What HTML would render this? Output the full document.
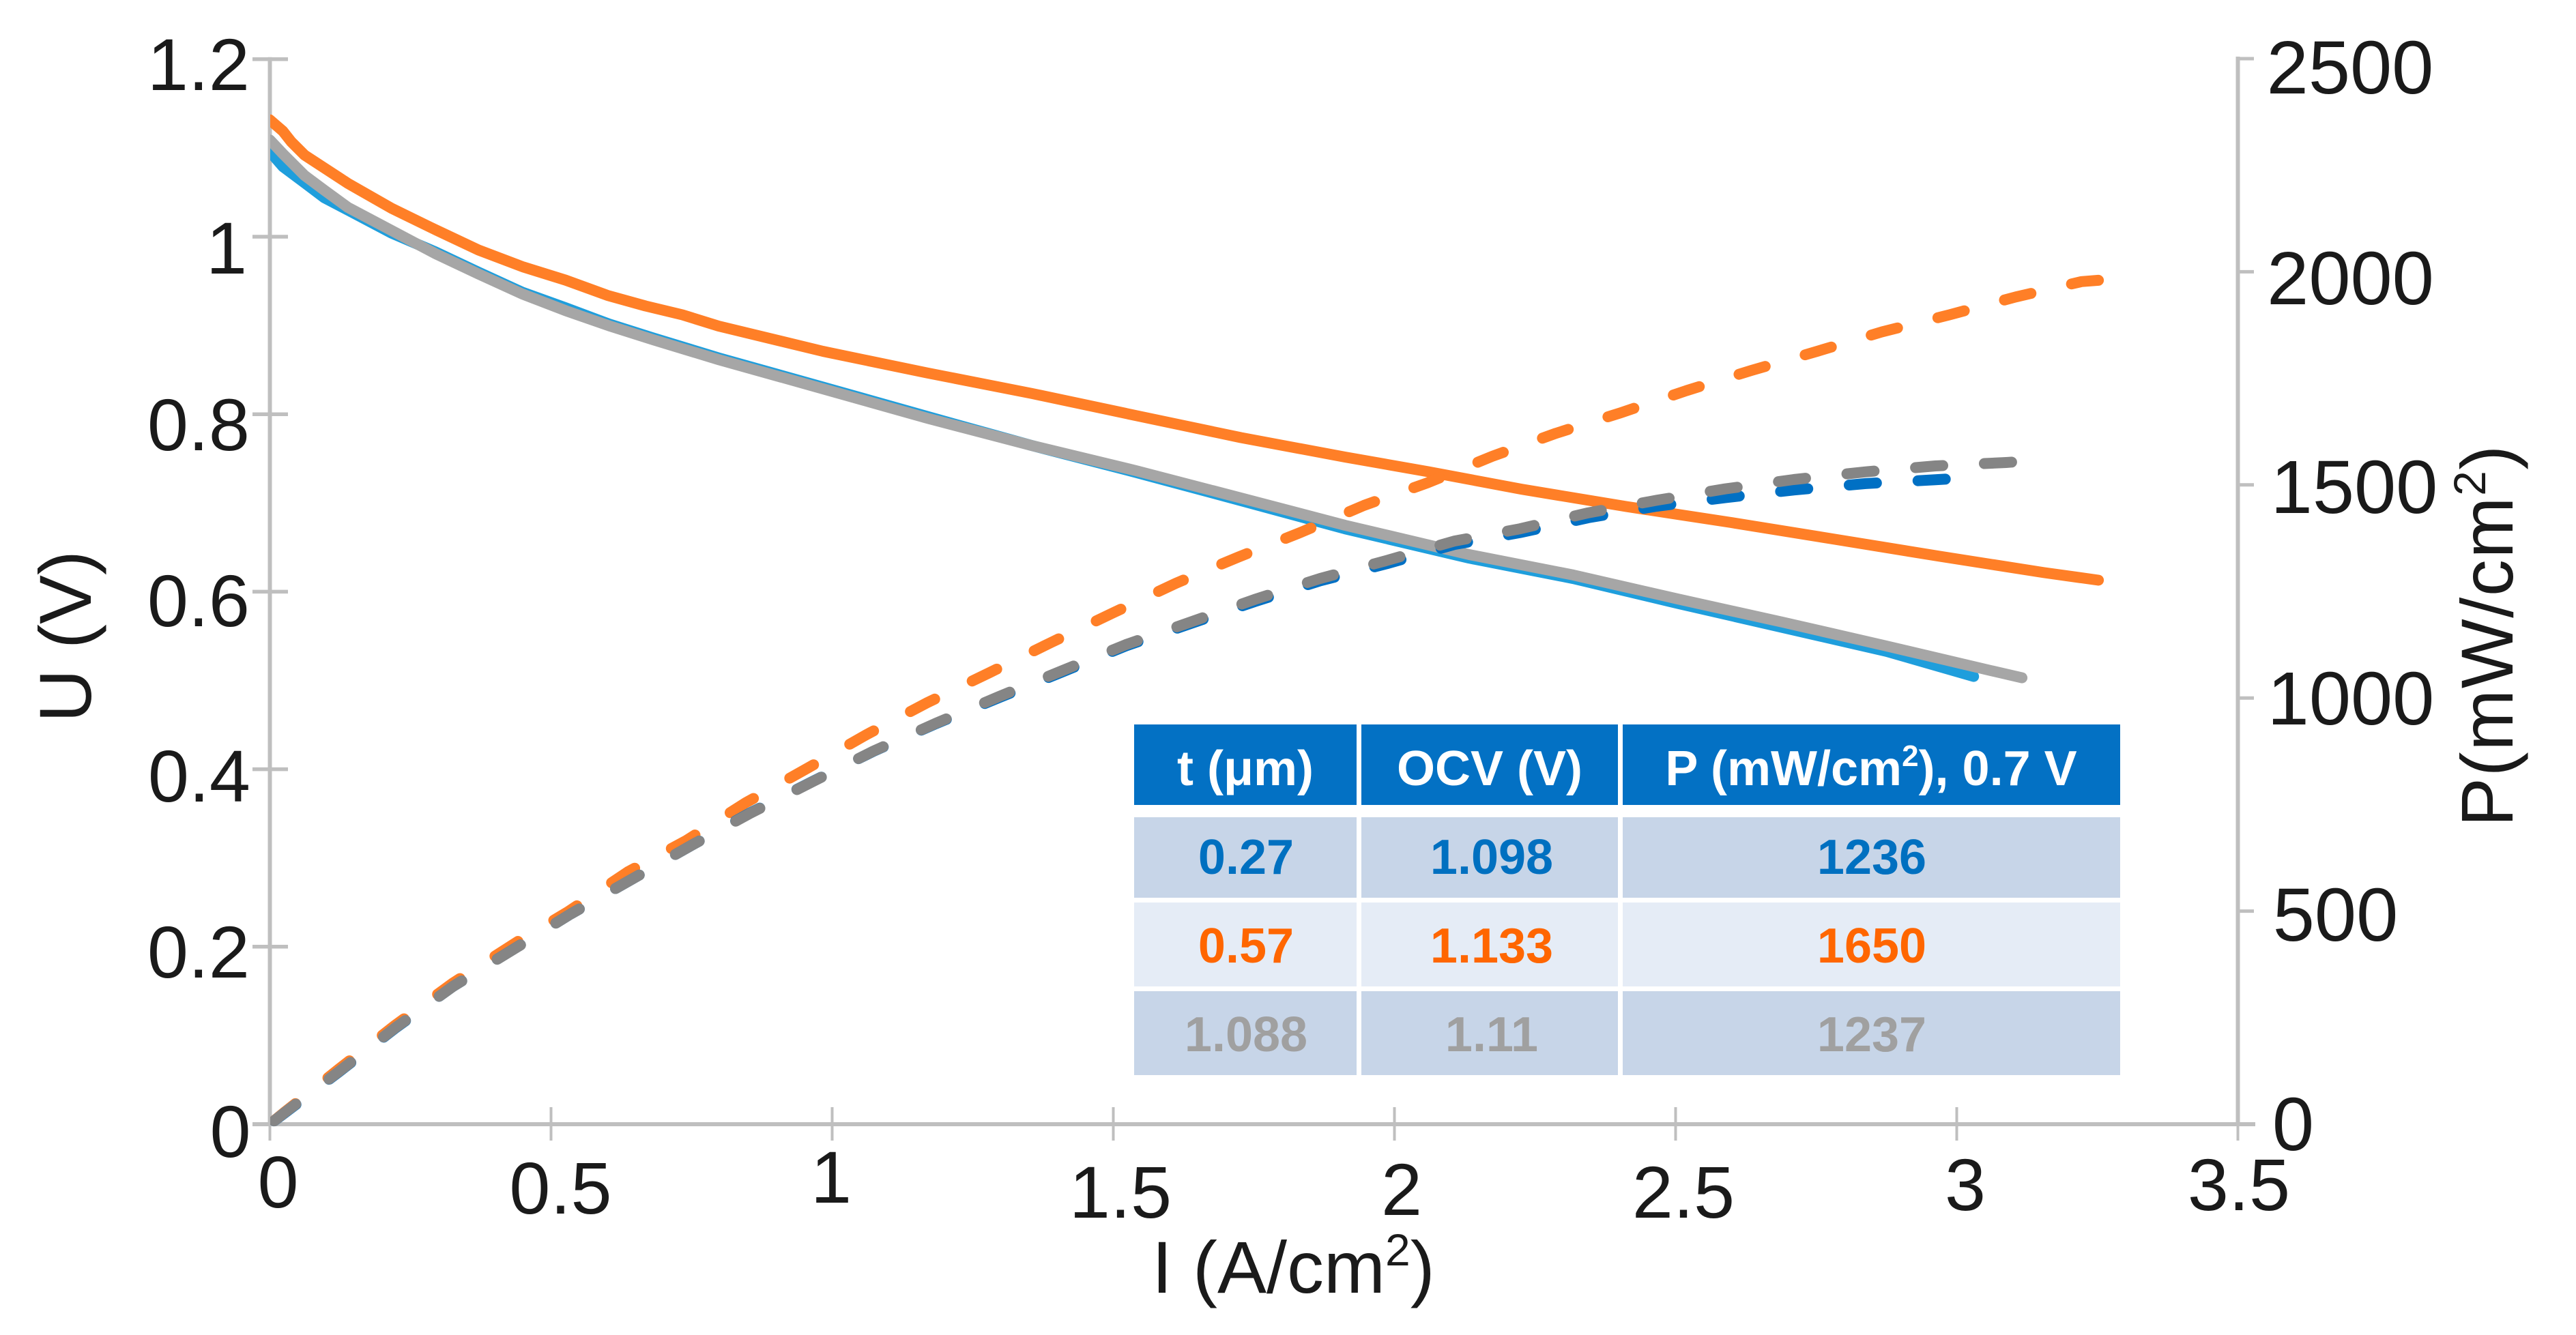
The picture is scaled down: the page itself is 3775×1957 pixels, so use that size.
<!DOCTYPE html>
<html lang="en">
<head>
<meta charset="utf-8">
<title>Polarization and power density curves</title>
<style>
html,body{margin:0;padding:0;background:#fff;}
svg{display:block;font-family:"Liberation Sans",Arial,sans-serif;}
.lbl{font-size:108px;fill:#1a1a1a;}
.rlbl{font-size:110px;fill:#1a1a1a;}
.th{font-size:72px;font-weight:bold;fill:#fff;text-anchor:middle;}
.td{font-size:72px;font-weight:bold;text-anchor:middle;}
</style>
</head>
<body>
<svg id="chart" xmlns="http://www.w3.org/2000/svg" width="3775" height="1957" viewBox="0 0 3775 1957">
  <rect width="3775" height="1957" fill="#fff"/>
  <defs><clipPath id="plot-clip"><rect x="396" y="0" width="3000" height="1957"/></clipPath></defs>
  <g id="axes"></g>
  <g id="series" clip-path="url(#plot-clip)"></g>

  <g text-anchor="end">
    <text class="lbl" x="366" y="132">1.2</text>
    <text class="lbl" x="366" y="660">0.8</text>
    <text class="lbl" x="366" y="918">0.6</text>
    <text class="lbl" x="367" y="1175">0.4</text>
    <text class="lbl" x="366" y="1433">0.2</text>
  </g>
  <g text-anchor="middle">
    <text class="lbl" x="332" y="401">1</text>
    <text class="lbl" x="337.5" y="1696">0</text>
  </g>
  <g text-anchor="middle">
    <text class="lbl" x="407.5" y="1770">0</text>
    <text class="lbl" x="821.5" y="1779">0.5</text>
    <text class="lbl" x="1218" y="1763">1</text>
    <text class="lbl" x="1642" y="1785">1.5</text>
    <text class="lbl" x="2054" y="1781">2</text>
    <text class="lbl" x="2467" y="1785">2.5</text>
    <text class="lbl" x="2880" y="1774">3</text>
    <text class="lbl" x="3281" y="1774">3.5</text>
  </g>
  <g text-anchor="middle">
    <text class="rlbl" x="3444" y="137">2500</text>
    <text class="rlbl" x="3444.5" y="446">2000</text>
    <text class="rlbl" x="3450" y="752">1500</text>
    <text class="rlbl" x="3445" y="1062">1000</text>
    <text class="rlbl" x="3422.5" y="1379">500</text>
    <text class="rlbl" x="3360.5" y="1686">0</text>
  </g>

  <text class="lbl" x="1688" y="1895">I (A/cm<tspan font-size="66" dy="-40">2</tspan><tspan dy="40">)</tspan></text>
  <text class="lbl" transform="translate(133,1059) rotate(-90)" x="0" y="0" font-size="105">U (V)</text>
  <text class="lbl" transform="translate(3682,1212) rotate(-90)" x="0" y="0" letter-spacing="1.6">P(mW/cm<tspan font-size="66" dy="-40">2</tspan><tspan dy="40">)</tspan></text>

  <g>
    <g fill="#0371c4">
      <rect x="1662" y="1062" width="326" height="118"/>
      <rect x="1995" y="1062" width="376" height="118"/>
      <rect x="2378" y="1062" width="729" height="118"/>
    </g>
    <g fill="#c7d5e8">
      <rect x="1662" y="1198" width="326" height="118"/>
      <rect x="1995" y="1198" width="376" height="118"/>
      <rect x="2378" y="1198" width="729" height="118"/>
    </g>
    <g fill="#e5ecf6">
      <rect x="1662" y="1323" width="326" height="123"/>
      <rect x="1995" y="1323" width="376" height="123"/>
      <rect x="2378" y="1323" width="729" height="123"/>
    </g>
    <g fill="#c7d5e8">
      <rect x="1662" y="1453" width="326" height="123"/>
      <rect x="1995" y="1453" width="376" height="123"/>
      <rect x="2378" y="1453" width="729" height="123"/>
    </g>
    <text class="th" x="1825" y="1151">t (μm)</text>
    <text class="th" x="2183" y="1151">OCV (V)</text>
    <text class="th" x="2742" y="1151">P (mW/cm<tspan font-size="44" dy="-28">2</tspan><tspan dy="28">), 0.7 V</tspan></text>
    <g fill="#0070c0">
      <text class="td" x="1826" y="1281">0.27</text>
      <text class="td" x="2186" y="1281">1.098</text>
      <text class="td" x="2743" y="1281">1236</text>
    </g>
    <g fill="#ff6600">
      <text class="td" x="1826" y="1411">0.57</text>
      <text class="td" x="2186" y="1411">1.133</text>
      <text class="td" x="2743" y="1411">1650</text>
    </g>
    <g fill="#a0a0a0">
      <text class="td" x="1826" y="1541">1.088</text>
      <text class="td" x="2186" y="1541">1.11</text>
      <text class="td" x="2743" y="1541">1237</text>
    </g>
  </g>
</svg>
<script>
var xTicks = [0, 0.5, 1, 1.5, 2, 2.5, 3, 3.5];
var uTicks = [0, 0.2, 0.4, 0.6, 0.8, 1, 1.2];
var pTicks = [0, 500, 1000, 1500, 2000, 2500];

var currentOrangeU = [0, 0.023, 0.038, 0.0616, 0.139, 0.2166, 0.294, 0.371, 0.45, 0.526, 0.6, 0.668, 0.7336, 0.798, 0.9836, 1.169, 1.355, 1.541, 1.727, 1.912, 2.061, 2.226, 2.412, 2.598, 2.784, 2.969, 3.155, 3.252];
var voltageOrange = [1.1316, 1.119, 1.107, 1.092, 1.06, 1.032, 1.008, 0.985, 0.966, 0.951, 0.934, 0.922, 0.912, 0.8993, 0.8709, 0.8465, 0.8234, 0.7984, 0.7736, 0.7517, 0.7351, 0.7155, 0.696, 0.678, 0.659, 0.64, 0.6215, 0.613];

var currentGrayU = [0, 0.023, 0.0616, 0.0966, 0.139, 0.2166, 0.294, 0.371, 0.4487, 0.526, 0.6034, 0.681, 0.798, 0.9836, 1.169, 1.355, 1.541, 1.727, 1.912, 2.133, 2.318, 2.504, 2.69, 2.875, 3.061, 3.116];
var voltageGray = [1.109, 1.0935, 1.069, 1.0525, 1.033, 1.007, 0.981, 0.958, 0.9355, 0.9167, 0.8996, 0.884, 0.8615, 0.8286, 0.7955, 0.7647, 0.7363, 0.7056, 0.6749, 0.6418, 0.6188, 0.5918, 0.5657, 0.5388, 0.5111, 0.503];

var currentBlueU = [0, 0.023, 0.0616, 0.0966, 0.139, 0.2166, 0.294, 0.371, 0.4487, 0.526, 0.6034, 0.681, 0.798, 0.9836, 1.169, 1.355, 1.541, 1.727, 1.912, 2.133, 2.318, 2.504, 2.69, 2.875, 3.03];
var voltageBlue = [1.096, 1.079, 1.0607, 1.044, 1.03, 1.004, 0.983, 0.96, 0.9375, 0.92, 0.9016, 0.886, 0.8635, 0.8306, 0.7975, 0.7647, 0.7343, 0.7026, 0.6709, 0.6378, 0.6148, 0.5868, 0.5597, 0.5328, 0.5045];

var currentOrangeP = [0, 0.026, 0.1232, 0.2227, 0.3252, 0.44, 0.5297, 0.6365, 0.741, 0.846, 0.9545, 1.061, 1.169, 1.28, 1.389, 1.5, 1.611, 1.722, 1.834, 1.946, 2.058, 2.174, 2.287, 2.402, 2.519, 2.635, 2.751, 2.867, 2.987, 3.105, 3.222, 3.252];
var powerOrange = [0, 28, 130, 232, 331, 428, 498, 592, 666, 754, 834, 914, 989, 1059.5, 1130, 1200, 1269, 1330.5, 1389, 1452, 1504.5, 1567, 1621, 1669, 1721, 1768.6, 1813, 1859, 1899, 1941, 1977, 1980];

var currentGrayP = [0, 0.026, 0.1232, 0.2227, 0.3252, 0.4424, 0.5346, 0.6414, 0.748, 0.855, 0.9648, 1.0734, 1.185, 1.297, 1.409, 1.522, 1.638, 1.751, 1.868, 1.986, 2.106, 2.223, 2.345, 2.467, 2.588, 2.71, 2.838, 2.962, 3.088, 3.116];
var powerGray = [0, 27, 124, 226, 323, 417.7, 493, 573, 653, 730, 803.5, 875.5, 941, 1003.5, 1064, 1125, 1178.5, 1231, 1280.4, 1322.5, 1368, 1397, 1434.5, 1464, 1490.6, 1512.5, 1530.6, 1544.5, 1552.5, 1555];

var currentBlueP = [0, 0.026, 0.1232, 0.2227, 0.3252, 0.4424, 0.5346, 0.6414, 0.748, 0.855, 0.9648, 1.0734, 1.185, 1.297, 1.409, 1.522, 1.638, 1.751, 1.868, 1.986, 2.106, 2.223, 2.345, 2.467, 2.588, 2.71, 2.838, 2.962, 3.0];
var powerBlue = [0, 26, 123, 225, 323, 418, 493, 573, 653, 731, 804, 875, 940, 1001, 1061, 1122, 1175, 1226, 1275, 1315, 1360, 1388, 1423, 1450, 1470, 1488, 1503, 1512, 1515];

var svgNS = 'http://www.w3.org/2000/svg';
function xScale(i) { return 395.5 + 824 * i; }
function uScale(u) { return 1648 - 1301 * u; }
function pScale(p) { return 1648 - 0.6248 * p; }

function buildPath(xs, ys, yFn) {
  var d = '';
  for (var i = 0; i < xs.length; i++) {
    d += (i ? 'L' : 'M') + xScale(xs[i]).toFixed(1) + ' ' + yFn(ys[i]).toFixed(1);
  }
  return d;
}

var axesGroup = document.getElementById('axes');
var seriesGroup = document.getElementById('series');

function addLine(x1, y1, x2, y2, width) {
  var el = document.createElementNS(svgNS, 'line');
  el.setAttribute('x1', x1);
  el.setAttribute('y1', y1);
  el.setAttribute('x2', x2);
  el.setAttribute('y2', y2);
  el.setAttribute('stroke', '#bfbfbf');
  el.setAttribute('stroke-width', width);
  axesGroup.appendChild(el);
  return el;
}

var leftAxis = addLine(xScale(0), uScale(1.2) - 3, xScale(0), 1648, 6);


var rightAxis = addLine(xScale(3.5), pScale(2500) - 3, xScale(3.5), 1648, 6);


var bottomAxis = addLine(370, 1648, 3305, 1648, 6);



xTicks.forEach(function (t) {
  var tick = addLine(xScale(t), 1623, xScale(t), 1672, 4);
  
  
});
uTicks.forEach(function (t) {
  var tick = addLine(370, uScale(t), 422, uScale(t), 5.5);
  
  
});
pTicks.forEach(function (t) {
  var tick = addLine(xScale(3.5), pScale(t), 3303, pScale(t), 5);
  
  
});

function addSeries(xs, ys, yFn, color, dashed) {
  var el = document.createElementNS(svgNS, 'path');
  el.setAttribute('d', buildPath(xs, ys, yFn));
  el.setAttribute('fill', 'none');
  el.setAttribute('stroke', color);
  el.setAttribute('stroke-width', 16);
  el.setAttribute('stroke-linejoin', 'round');
  el.setAttribute('stroke-linecap', 'round');
  if (dashed) {
    el.setAttribute('stroke-dasharray', '40 61');
    el.setAttribute('stroke-dashoffset', '-8');
  }
  seriesGroup.appendChild(el);
  return el;
}

var solidBlue = addSeries(currentBlueU, voltageBlue, uScale, '#1f9edc', false);


var solidOrange = addSeries(currentOrangeU, voltageOrange, uScale, '#ff7f27', false);


var solidGray = addSeries(currentGrayU, voltageGray, uScale, '#a6a6a6', false);


var dashOrange = addSeries(currentOrangeP, powerOrange, pScale, '#ff7f27', true);


var dashBlue = addSeries(currentBlueP, powerBlue, pScale, '#0070c4', true);


var dashGray = addSeries(currentGrayP, powerGray, pScale, '#858585', true);


</script>
</body>
</html>
